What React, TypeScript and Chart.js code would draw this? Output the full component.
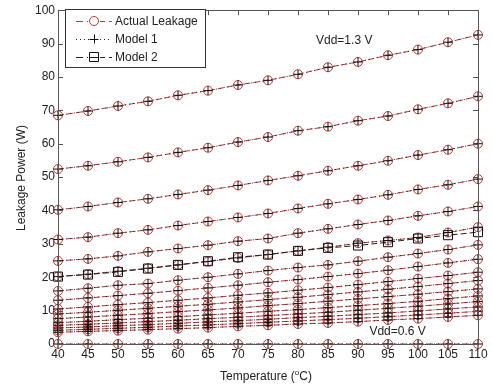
import React, { useEffect, useRef } from "react";
import { Chart, registerables } from "chart.js";

Chart.register(...registerables);

const temperatures = [40, 45, 50, 55, 60, 65, 70, 75, 80, 85, 90, 95, 100, 105, 110];
const xTicks = [40, 45, 50, 55, 60, 65, 70, 75, 80, 85, 90, 95, 100, 105, 110];
const yTicks = [0, 10, 20, 30, 40, 50, 60, 70, 80, 90, 100];

// Actual leakage curves (one per supply voltage), top to bottom
const curve01 = [68.5, 69.8, 71.3, 72.7, 74.5, 75.9, 77.6, 79.0, 80.8, 82.9, 84.5, 86.5, 88.2, 90.4, 92.6];
const curve02 = [52.4, 53.4, 54.6, 55.9, 57.4, 58.8, 60.5, 62.0, 63.9, 65.1, 66.9, 68.3, 70.3, 72.1, 74.2];
const curve03 = [40.2, 41.2, 42.4, 43.5, 44.8, 46.1, 47.5, 49.0, 50.4, 51.9, 53.4, 54.9, 56.6, 58.2, 60.0];
const curve04 = [31.3, 32.0, 33.2, 34.2, 35.5, 36.7, 37.9, 39.1, 40.6, 42.0, 43.3, 44.7, 46.3, 47.7, 49.4];
const curve05 = [24.9, 25.5, 26.4, 27.6, 28.6, 29.6, 30.8, 31.6, 33.2, 34.5, 35.8, 37.0, 38.4, 39.7, 41.2];
const curve06 = [20.2, 20.9, 21.8, 22.7, 23.7, 24.7, 25.8, 26.8, 27.9, 29.0, 30.2, 31.0, 31.9, 33.4, 35.0];
const curve07 = [15.9, 16.7, 17.6, 18.1, 19.1, 20.0, 21.0, 22.0, 22.9, 23.7, 24.8, 26.0, 27.1, 28.3, 29.7];
const curve08 = [13.1, 13.8, 14.5, 15.2, 16.0, 16.8, 17.6, 18.5, 19.3, 20.2, 21.1, 22.1, 23.2, 24.3, 25.4];
const curve09 = [10.5, 11.1, 11.8, 12.4, 13.1, 13.8, 14.6, 15.3, 16.1, 16.9, 17.8, 18.7, 19.6, 20.5, 21.5];
const curve10 = [9.0, 9.5, 10.1, 10.7, 11.3, 11.9, 12.6, 13.3, 14.0, 14.8, 15.6, 16.4, 17.2, 18.1, 19.0];
const curve11 = [7.6, 8.1, 8.6, 9.1, 9.7, 10.2, 10.8, 11.5, 12.1, 12.8, 13.5, 14.2, 14.9, 15.7, 16.5];
const curve12 = [6.4, 6.8, 7.3, 7.7, 8.2, 8.7, 9.2, 9.8, 10.3, 10.9, 11.5, 12.1, 12.8, 13.6, 14.4];
const curve13 = [5.6, 5.9, 6.3, 6.7, 7.1, 7.6, 8.0, 8.5, 9.0, 9.5, 10.1, 10.7, 11.3, 12.0, 12.7];
const curve14 = [4.8, 5.1, 5.5, 5.8, 6.2, 6.6, 7.0, 7.4, 7.9, 8.3, 8.8, 9.3, 9.9, 10.5, 11.1];
const curve15 = [4.1, 4.4, 4.7, 5.0, 5.4, 5.7, 6.1, 6.5, 6.9, 7.3, 7.7, 8.2, 8.7, 9.2, 9.8];
const curve16 = [3.5, 3.8, 4.0, 4.3, 4.6, 4.9, 5.3, 5.6, 6.0, 6.3, 6.7, 7.2, 7.6, 8.1, 8.6];
const curve00 = [0, 0, 0, 0, 0, 0, 0, 0, 0, 0, 0, 0, 0, 0, 0];

// Model 2 estimate (only one curve shown)
const model2 = [20.2, 20.8, 21.6, 22.6, 23.7, 24.8, 26.0, 26.8, 27.9, 28.8, 29.5, 30.5, 31.6, 32.6, 33.5];

const actualCurves = [curve01, curve02, curve03, curve04, curve05, curve06, curve07, curve08,
  curve09, curve10, curve11, curve12, curve13, curve14, curve15, curve16, curve00];

const legendLabels = ["Actual Leakage", "Model 1", "Model 2"];
const annotTop = { text: "Vdd=1.3 V", x: 87.7, y: 90.9 };
const annotBottom = { text: "Vdd=0.6 V", x: 96.6, y: 3.8 };

const RED = "#c03535";
const FONT = "'Liberation Sans', Arial, sans-serif";

const toPoints = (arr: number[]) => arr.map((v, i) => ({ x: temperatures[i], y: v }));

const matlabPlugin = {
  id: "matlabStyle",
  afterDraw(chart: any) {
    const ctx = chart.ctx;
    const { left, right, top, bottom } = chart.chartArea;
    const xs = chart.scales.x;
    const ys = chart.scales.y;
    ctx.save();
    ctx.strokeStyle = "#555";
    ctx.lineWidth = 1;
    ctx.setLineDash([]);
    ctx.strokeRect(Math.round(left) + 0.5, Math.round(top) + 0.5, Math.round(right - left), Math.round(bottom - top));
    ctx.beginPath();
    xTicks.forEach((t) => {
      const px = Math.round(xs.getPixelForValue(t)) + 0.5;
      ctx.moveTo(px, bottom);
      ctx.lineTo(px, bottom - 5);
      ctx.moveTo(px, top);
      ctx.lineTo(px, top + 5);
    });
    yTicks.forEach((t) => {
      const py = Math.round(ys.getPixelForValue(t)) + 0.5;
      ctx.moveTo(left, py);
      ctx.lineTo(left + 5, py);
      ctx.moveTo(right, py);
      ctx.lineTo(right - 5, py);
    });
    ctx.stroke();

    ctx.fillStyle = "#222";
    ctx.font = `12px ${FONT}`;
    ctx.textAlign = "center";
    ctx.textBaseline = "middle";
    [annotTop, annotBottom].forEach((a) => {
      ctx.fillText(a.text, xs.getPixelForValue(a.x), ys.getPixelForValue(a.y));
    });

    ctx.save();
    ctx.translate(22, 178);
    ctx.rotate(-Math.PI / 2);
    ctx.fillText("Leakage Power (W)", 0, 0);
    ctx.restore();

    const part1 = "Temperature (";
    const sup = "o";
    const part2 = "C)";
    ctx.font = `12px ${FONT}`;
    const w1 = ctx.measureText(part1).width;
    const w3 = ctx.measureText(part2).width;
    ctx.font = `8px ${FONT}`;
    const w2 = ctx.measureText(sup).width;
    const total = w1 + w2 + w3;
    let sx = 266 - total / 2;
    const ty = 377;
    ctx.textAlign = "left";
    ctx.font = `12px ${FONT}`;
    ctx.fillText(part1, sx, ty);
    sx += w1;
    ctx.font = `8px ${FONT}`;
    ctx.fillText(sup, sx, ty - 4);
    sx += w2;
    ctx.font = `12px ${FONT}`;
    ctx.fillText(part2, sx, ty);

    const lx = 65, ly = 9, lw = 140, lh = 58;
    ctx.fillStyle = "#fff";
    ctx.fillRect(lx, ly, lw, lh);
    ctx.strokeStyle = "#333";
    ctx.strokeRect(lx + 0.5, ly + 0.5, lw, lh);
    const rows = [21, 39, 57];
    const x0 = 76, x1 = 112, mx = 94;
    rows.forEach((ry, i) => {
      ctx.beginPath();
      if (i === 0) {
        ctx.strokeStyle = RED;
        ctx.setLineDash([7, 4]);
      } else if (i === 1) {
        ctx.strokeStyle = "#222";
        ctx.setLineDash([1, 3]);
      } else {
        ctx.strokeStyle = "#222";
        ctx.setLineDash([7, 4]);
      }
      ctx.moveTo(x0, ry + 0.5);
      ctx.lineTo(x1, ry + 0.5);
      ctx.stroke();
      ctx.setLineDash([]);
      ctx.beginPath();
      if (i === 0) {
        ctx.fillStyle = "#fff";
        ctx.fillRect(mx - 6, ry - 6, 12, 12);
        ctx.strokeStyle = RED;
        ctx.arc(mx, ry, 4.5, 0, Math.PI * 2);
      } else if (i === 1) {
        ctx.strokeStyle = "#111";
        ctx.moveTo(mx - 4.5, ry + 0.5);
        ctx.lineTo(mx + 4.5, ry + 0.5);
        ctx.moveTo(mx + 0.5, ry - 4.5);
        ctx.lineTo(mx + 0.5, ry + 4.5);
      } else {
        ctx.fillStyle = "#fff";
        ctx.fillRect(mx - 6, ry - 6, 12, 12);
        ctx.strokeStyle = "#111";
        ctx.rect(mx - 4.5, ry - 4.5, 9, 9);
        ctx.moveTo(mx - 4.5, ry + 0.5);
        ctx.lineTo(mx + 4.5, ry + 0.5);
      }
      ctx.stroke();
      ctx.fillStyle = "#222";
      ctx.font = `12px ${FONT}`;
      ctx.textAlign = "left";
      ctx.textBaseline = "middle";
      ctx.fillText(legendLabels[i], 115, ry + 1);
    });
    ctx.restore();
  },
};

export default function App() {
  const ref = useRef<HTMLCanvasElement>(null);
  useEffect(() => {
    if (!ref.current) return;
    const datasets: any[] = [];
    actualCurves.forEach((c) => {
      datasets.push({
        label: legendLabels[0],
        data: toPoints(c),
        borderColor: RED,
        borderWidth: 1,
        borderDash: [6, 3],
        pointStyle: "circle",
        pointRadius: 4.5,
        pointBorderColor: RED,
        pointBackgroundColor: "rgba(0,0,0,0)",
        pointBorderWidth: 1,
        fill: false,
        clip: false,
        order: 3,
      });
    });
    actualCurves.forEach((c) => {
      datasets.push({
        label: legendLabels[1],
        data: toPoints(c),
        borderColor: "#222",
        borderWidth: 1,
        borderDash: [1, 3],
        pointStyle: "cross",
        pointRadius: 4.5,
        pointBorderColor: "#111",
        pointBorderWidth: 1,
        fill: false,
        clip: false,
        order: 2,
      });
    });
    datasets.push({
      label: legendLabels[2],
      data: toPoints(model2),
      borderColor: "#222",
      borderWidth: 1,
      borderDash: [6, 3],
      pointStyle: "rect",
      pointRadius: 6.4,
      pointBorderColor: "#111",
      pointBackgroundColor: "rgba(0,0,0,0)",
      pointBorderWidth: 1,
      fill: false,
      clip: false,
      order: 1,
    });

    const chart = new Chart(ref.current, {
      type: "line",
      data: { datasets },
      options: {
        responsive: false,
        animation: false,
        layout: { padding: { left: 0, top: 4, right: 14, bottom: 0 }, autoPadding: false },
        plugins: { legend: { display: false }, tooltip: { enabled: false } },
        elements: { line: { tension: 0 } },
        scales: {
          x: {
            type: "linear",
            min: 40,
            max: 110,
            afterFit: (s: any) => { s.height = 48; },
            afterBuildTicks: (s: any) => { s.ticks = xTicks.map((v) => ({ value: v })); },
            grid: { display: false, drawTicks: false, tickLength: 0 },
            border: { display: false },
            ticks: { color: "#222", font: { family: FONT, size: 12 }, padding: 3, maxRotation: 0, autoSkip: false },
          },
          y: {
            type: "linear",
            min: 0,
            max: 100,
            afterFit: (s: any) => { s.width = 58; },
            afterBuildTicks: (s: any) => { s.ticks = yTicks.map((v) => ({ value: v })); },
            grid: { display: false, drawTicks: false, tickLength: 0 },
            border: { display: false },
            ticks: { color: "#222", font: { family: FONT, size: 12 }, padding: 3 },
          },
        },
      },
      plugins: [matlabPlugin],
    });
    return () => chart.destroy();
  }, []);
  return (
    <div style={{ position: "fixed", left: 0, top: 0, width: 492, height: 392, background: "#fff" }}>
      <canvas ref={ref} width={492} height={392} style={{ width: 492, height: 392 }} />
    </div>
  );
}
